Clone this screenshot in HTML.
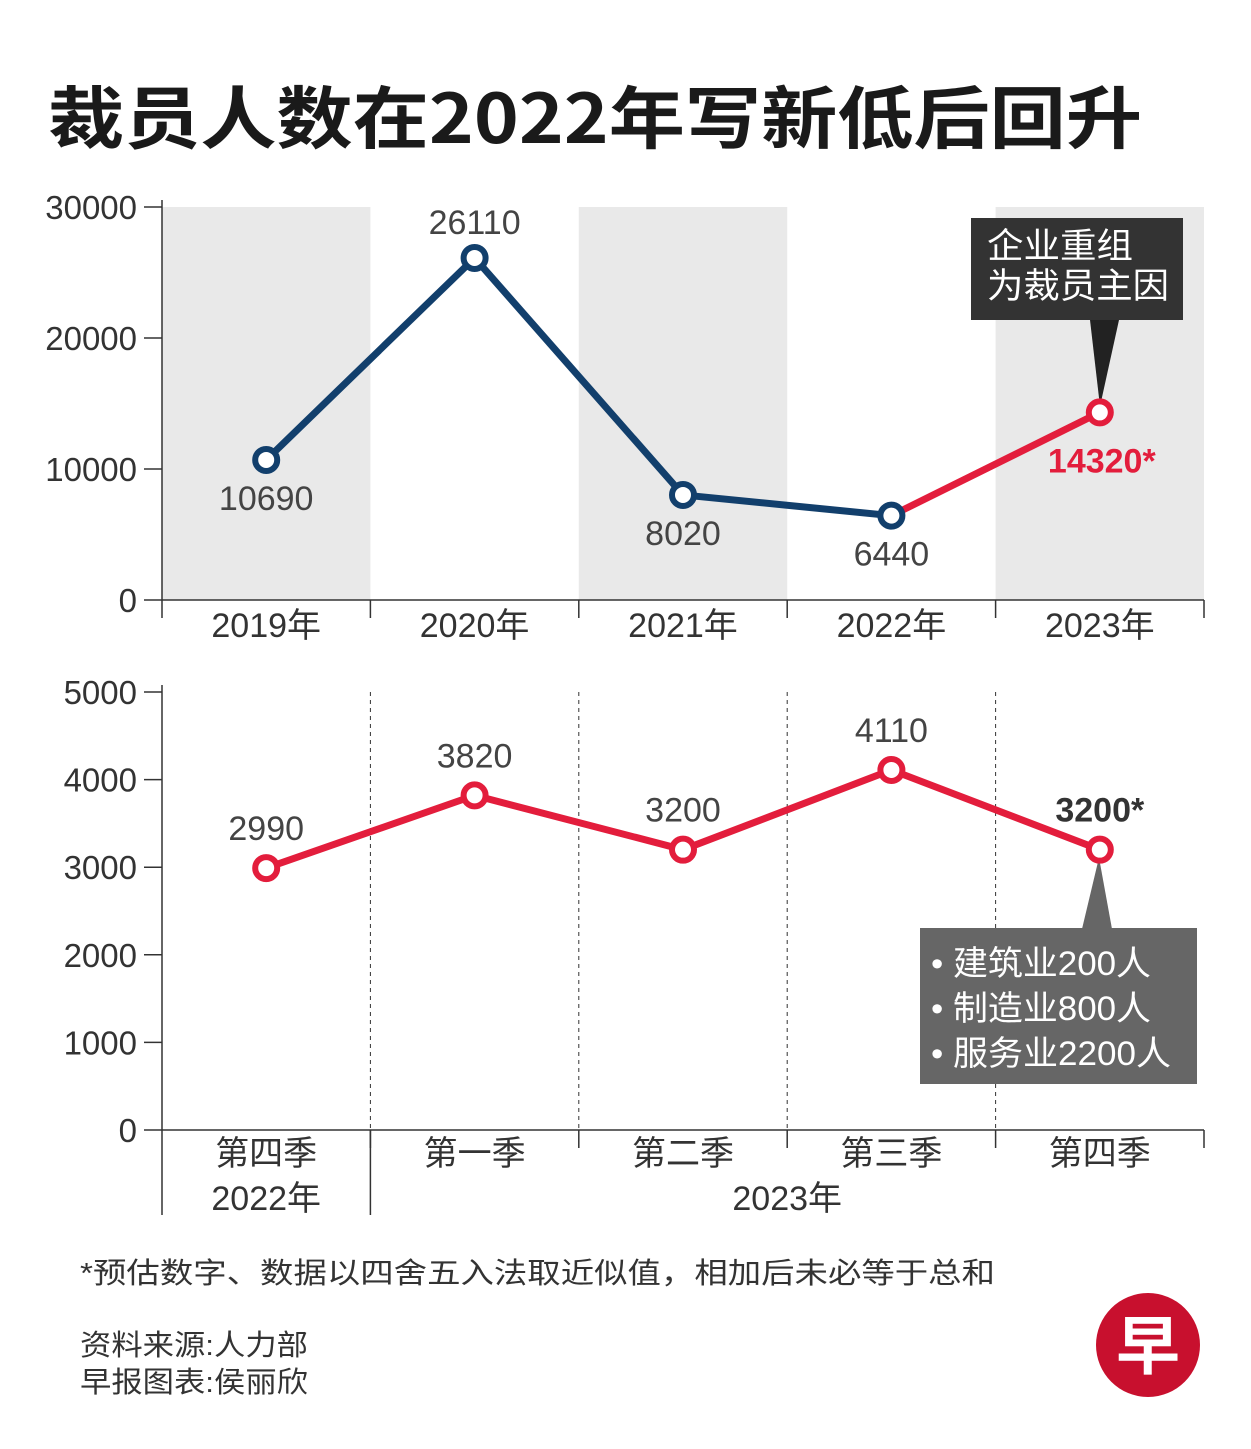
<!DOCTYPE html>
<html><head><meta charset="utf-8"><style>
body{margin:0;background:#fff;}
svg{display:block;font-family:"Liberation Sans","Noto Sans CJK SC",sans-serif;}
</style></head><body>
<svg width="1251" height="1449" viewBox="0 0 1251 1449">
<text x="48" y="143" font-size="68" font-weight="bold" fill="#1a1a1a" textLength="1094" lengthAdjust="spacingAndGlyphs" font-family="Noto Sans CJK SC, sans-serif">裁员人数在2022年写新低后回升</text>
<g id="c1"></g>
<g id="c2"></g>
<text x="80" y="1283" font-size="29" fill="#333" textLength="915" lengthAdjust="spacingAndGlyphs">*预估数字、数据以四舍五入法取近似值，相加后未必等于总和</text>
<text x="80" y="1355" font-size="29" fill="#333" textLength="228" lengthAdjust="spacingAndGlyphs">资料来源:人力部</text>
<text x="80" y="1392" font-size="29" fill="#333" textLength="228" lengthAdjust="spacingAndGlyphs">早报图表:侯丽欣</text>
<g>
<circle cx="1148" cy="1345" r="52" fill="#c8102e"/>
<text x="1148" y="1369" font-size="64" font-weight="bold" fill="#fff" text-anchor="middle" font-family="Noto Sans CJK SC, sans-serif">早</text>
</g>
</svg>
<script>
const years=["2019年","2020年","2021年","2022年","2023年"];
const annualValues=[10690,26110,8020,6440,14320];
const annualLabels=["10690","26110","8020","6440","14320*"];
const annualTicks=[0,10000,20000,30000];
const quarters=["第四季","第一季","第二季","第三季","第四季"];
const quarterValues=[2990,3820,3200,4110,3200];
const quarterLabels=["2990","3820","3200","4110","3200*"];
const quarterTicks=[0,1000,2000,3000,4000,5000];
const NS="http://www.w3.org/2000/svg";
const BLUE="#123f6c",RED="#e31d3c";
function mk(p,tag,a,txt){const e=document.createElementNS(NS,tag);for(const k in a)e.setAttribute(k,a[k]);if(txt!==undefined)e.textContent=txt;p.appendChild(e);return e;}
const X0=162,CW=208.4;
function xc(i){return X0+CW*(i+0.5);}
const c1=document.getElementById('c1');
function y1(v){return 600-v/30000*393;}
for(let i=0;i<5;i+=2){const r=mk(c1,'rect',{x:X0+CW*i,y:207,width:CW,height:393,fill:'#e9e9e9'});

}
mk(c1,'line',{x1:X0,y1:200,x2:X0,y2:618,stroke:'#333','stroke-width':1.5});
mk(c1,'line',{x1:X0,y1:600,x2:1204,y2:600,stroke:'#333','stroke-width':1.5});
annualTicks.forEach(t=>{mk(c1,'line',{x1:X0-18,y1:y1(t),x2:X0,y2:y1(t),stroke:'#333','stroke-width':1.5});
const e=mk(c1,'text',{x:137,y:y1(t)+12,'font-size':33,'text-anchor':'end',fill:'#333'},String(t));

});
for(let i=1;i<=5;i++)mk(c1,'line',{x1:X0+CW*i,y1:600,x2:X0+CW*i,y2:618,stroke:'#333','stroke-width':1.5});
years.forEach((y,i)=>{const e=mk(c1,'text',{x:xc(i),y:637,'font-size':34,'text-anchor':'middle',fill:'#333'},y);

});
const pb=annualValues.slice(0,4).map((v,i)=>xc(i)+','+y1(v)).join(' ');
const l1=mk(c1,'polyline',{points:pb,fill:'none',stroke:BLUE,'stroke-width':7,'stroke-linejoin':'round'});


const l2=mk(c1,'line',{x1:xc(3),y1:y1(annualValues[3]),x2:xc(4),y2:y1(annualValues[4]),stroke:RED,'stroke-width':7});


mk(c1,'rect',{x:971,y:218,width:212,height:102,fill:'#333'});
mk(c1,'polygon',{points:'1090,320 1119,320 1100,'+(y1(annualValues[4])-6),fill:'#222'});
mk(c1,'text',{x:987,y:258,'font-size':35,fill:'#fff',textLength:146,lengthAdjust:'spacingAndGlyphs'},'企业重组');
mk(c1,'text',{x:987,y:298,'font-size':35,fill:'#fff',textLength:182,lengthAdjust:'spacingAndGlyphs'},'为裁员主因');
const off1=[[0,38],[0,-36],[0,38],[0,38],[2,48]];
annualValues.forEach((v,i)=>{const c=mk(c1,'circle',{cx:xc(i),cy:y1(v),r:11,fill:'#fff',stroke:i==4?RED:BLUE,'stroke-width':6});


const t=mk(c1,'text',{x:xc(i)+off1[i][0],y:y1(v)+off1[i][1]+12,'font-size':34,'text-anchor':'middle',fill:i==4?RED:'#444','font-weight':i==4?'bold':'normal'},annualLabels[i]);

});
const c2=document.getElementById('c2');
function y2(v){return 1130-v/5000*438;}
mk(c2,'line',{x1:X0,y1:685,x2:X0,y2:1215,stroke:'#333','stroke-width':1.5});
mk(c2,'line',{x1:X0,y1:1130,x2:1204,y2:1130,stroke:'#333','stroke-width':1.5});
for(let i=1;i<=4;i++)mk(c2,'line',{x1:X0+CW*i,y1:692,x2:X0+CW*i,y2:1130,stroke:'#333','stroke-width':1,'stroke-dasharray':'4,4'});
for(let i=1;i<=5;i++)mk(c2,'line',{x1:X0+CW*i,y1:1130,x2:X0+CW*i,y2:1148,stroke:'#333','stroke-width':1.5});
mk(c2,'line',{x1:X0+CW,y1:1130,x2:X0+CW,y2:1215,stroke:'#333','stroke-width':1.5});
quarterTicks.forEach(t=>{mk(c2,'line',{x1:X0-18,y1:y2(t),x2:X0,y2:y2(t),stroke:'#333','stroke-width':1.5});
const e=mk(c2,'text',{x:137,y:y2(t)+12,'font-size':33,'text-anchor':'end',fill:'#333'},String(t));

});
quarters.forEach((q,i)=>{const e=mk(c2,'text',{x:xc(i),y:1165,'font-size':34,'text-anchor':'middle',fill:'#333'},q);

});
mk(c2,'text',{x:xc(0),y:1210,'font-size':34,'text-anchor':'middle',fill:'#333'},'2022年');
mk(c2,'text',{x:X0+CW*3,y:1210,'font-size':34,'text-anchor':'middle',fill:'#333'},'2023年');
const pq=quarterValues.map((v,i)=>xc(i)+','+y2(v)).join(' ');
const l3=mk(c2,'polyline',{points:pq,fill:'none',stroke:RED,'stroke-width':7,'stroke-linejoin':'round'});


mk(c2,'polygon',{points:'1082,929 1112,929 1099,'+(y2(quarterValues[4])+8),fill:'#666'});
mk(c2,'rect',{x:920,y:928,width:277,height:156,fill:'#666'});
const cl=[['• 建筑业200人',220],['• 制造业800人',220],['• 服务业2200人',240]];
cl.forEach((s,k)=>mk(c2,'text',{x:931,y:975+k*45,'font-size':34,fill:'#fff',textLength:s[1],lengthAdjust:'spacingAndGlyphs'},s[0]));
quarterValues.forEach((v,i)=>{const c=mk(c2,'circle',{cx:xc(i),cy:y2(v),r:11,fill:'#fff',stroke:RED,'stroke-width':6});


const t=mk(c2,'text',{x:xc(i),y:y2(v)-28,'font-size':34,'text-anchor':'middle',fill:i==4?'#333':'#444','font-weight':i==4?'bold':'normal'},quarterLabels[i]);

});
</script>
</body></html>
